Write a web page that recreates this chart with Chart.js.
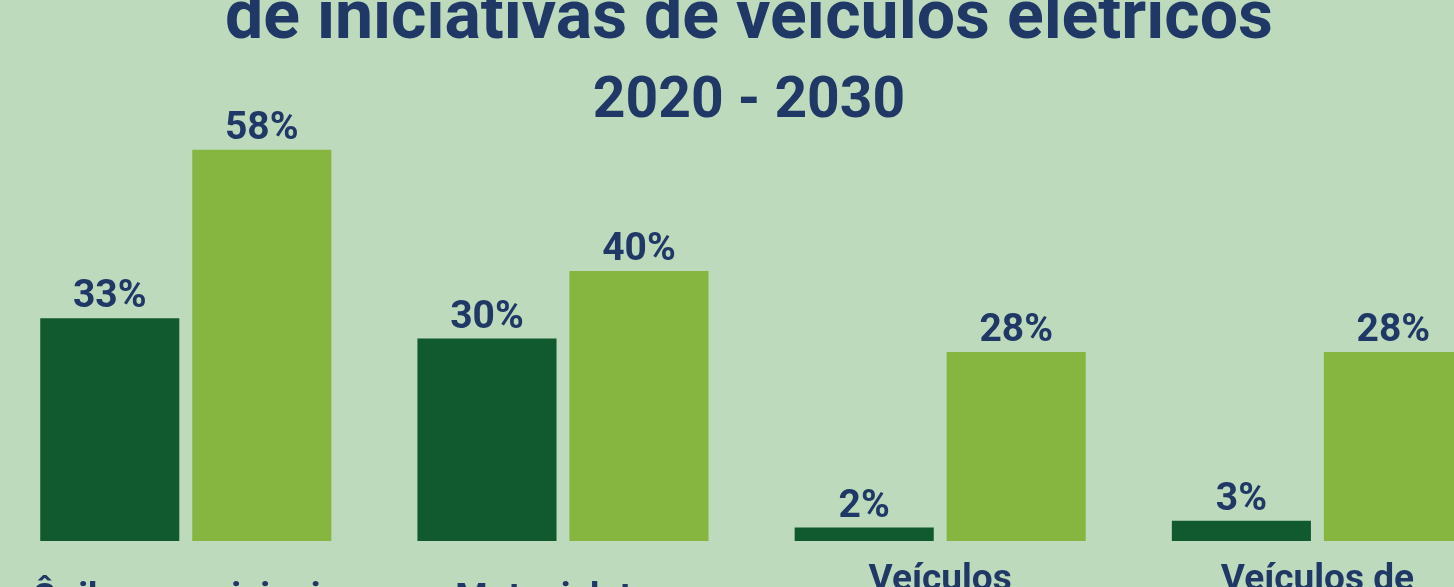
<!DOCTYPE html>
<html>
<head>
<meta charset="utf-8">
<script src="https://cdn.jsdelivr.net/npm/chart.js@4.4.1/dist/chart.umd.min.js"></script>
<style>
  html, body { margin: 0; padding: 0; width: 1454px; height: 587px; overflow: hidden; background: #bddabc; }
  #wrap { position: absolute; left: -8px; top: 0; width: 1514px; height: 695px; }
</style>
</head>
<body>
<div id="wrap"><canvas id="c"></canvas></div>
<script>
const categories = [["Ônibus municipais"], ["Motocicletas"], ["Veículos", "comerciais"], ["Veículos de", "passeio"]];
const values2020 = [33, 30, 2, 3];
const values2030 = [58, 40, 28, 28];
const seriesNames = ["2020", "2030"];
const titleLine = "de iniciativas de veículos elétricos";
const subtitleLine = "2020 - 2030";

const NAVY = "#1f3866";
const FONT = "Roboto, 'Noto Sans', sans-serif";

const valueLabels = {
  id: "valueLabels",
  afterDatasetsDraw(chart) {
    const ctx = chart.ctx;
    ctx.save();
    ctx.font = "bold 39px " + FONT;
    ctx.fillStyle = NAVY;
    ctx.textAlign = "center";
    ctx.textBaseline = "alphabetic";
    chart.data.datasets.forEach((ds, i) => {
      const meta = chart.getDatasetMeta(i);
      meta.data.forEach((el, j) => {
        ctx.fillText(ds.data[j] + "%", el.x, el.y - 11);
      });
    });
    ctx.restore();
  }
};

new Chart(document.getElementById("c"), {
  type: "bar",
  data: {
    labels: categories,
    datasets: [
      { label: seriesNames[0], data: values2020, backgroundColor: "#115a2f", categoryPercentage: 0.806, barPercentage: 0.915 },
      { label: seriesNames[1], data: values2030, backgroundColor: "#87b640", categoryPercentage: 0.806, barPercentage: 0.915 }
    ]
  },
  options: {
    responsive: true,
    maintainAspectRatio: false,
    animation: false,
    layout: { padding: 0 },
    plugins: {
      legend: { display: false },
      tooltip: { enabled: false },
      title: {
        display: true,
        text: titleLine,
        color: NAVY,
        font: { family: FONT, size: 68, weight: "bold", lineHeight: 0.62 },
        padding: { top: 0, bottom: 0 }
      },
      subtitle: {
        display: true,
        text: subtitleLine,
        color: NAVY,
        font: { family: FONT, size: 57, weight: "bold", lineHeight: 1 },
        padding: { top: 32, bottom: 5 }
      }
    },
    scales: {
      x: {
        grid: { display: false, drawTicks: false },
        border: { display: false },
        ticks: {
          color: NAVY,
          font: { family: FONT, size: 37, weight: "bold", lineHeight: 1 },
          padding: 40,
          crossAlign: "center",
          maxRotation: 0,
          autoSkip: false
        }
      },
      y: {
        display: false,
        min: 0,
        max: 60
      }
    }
  },
  plugins: [valueLabels]
});
</script>
</body>
</html>
